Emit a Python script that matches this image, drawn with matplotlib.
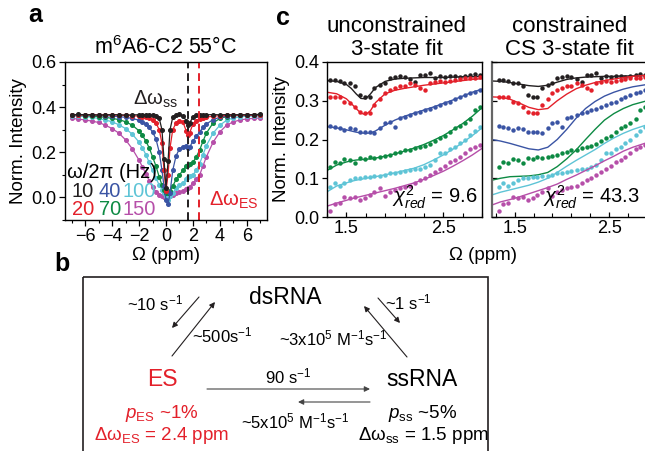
import numpy as np
import matplotlib
matplotlib.use('Agg')
import matplotlib.pyplot as plt
from matplotlib.patches import Rectangle
from matplotlib.ticker import MultipleLocator, FixedLocator

plt.rcParams['font.family'] = ['Liberation Sans', 'DejaVu Sans']
plt.rcParams['mathtext.fontset'] = 'custom'
plt.rcParams['mathtext.rm'] = 'Liberation Sans'
plt.rcParams['mathtext.it'] = 'Liberation Sans:italic'
plt.rcParams['mathtext.bf'] = 'Liberation Sans:bold'

# warna untuk tiap daya B1 (Hz)
warna = {10: '#231f20', 20: '#e3202a', 40: '#3a54a4', 70: '#0d8a43', 100: '#5ec4d6', 150: '#b64fa9'}
daya = [10, 20, 40, 70, 100, 150]

# ---------------- panel a : profil CEST penuh ----------------
offset_a = [-7.0, -6.5, -6.0, -5.5, -5.0, -4.5, -4.0, -3.5, -3.0, -2.5, -2.0,
            -1.75, -1.5, -1.25, -1.0, -0.75, -0.5, -0.3, -0.15, 0.0,
            0.15, 0.3, 0.5, 0.75, 1.0, 1.25, 1.5, 1.6, 1.75, 2.0, 2.25, 2.5, 2.75, 3.0,
            3.5, 4.0, 4.5, 5.0, 5.5, 6.0, 6.5, 7.0]

cest_10 = [0.365, 0.368, 0.366, 0.367, 0.365, 0.366, 0.367, 0.366, 0.365, 0.366, 0.366,
           0.367, 0.366, 0.365, 0.365, 0.362, 0.350, 0.300, 0.170, 0.040,
           0.160, 0.300, 0.355, 0.365, 0.368, 0.362, 0.340, 0.320, 0.330, 0.355, 0.364, 0.365, 0.367, 0.366,
           0.367, 0.366, 0.367, 0.366, 0.367, 0.366, 0.367, 0.368]
cest_20 = [0.365, 0.366, 0.365, 0.366, 0.365, 0.366, 0.364, 0.365, 0.363, 0.362, 0.360,
           0.358, 0.356, 0.352, 0.345, 0.330, 0.300, 0.240, 0.120, 0.030,
           0.100, 0.220, 0.300, 0.330, 0.340, 0.335, 0.295, 0.275, 0.285, 0.325, 0.340, 0.348, 0.352, 0.356,
           0.360, 0.362, 0.363, 0.364, 0.365, 0.364, 0.365, 0.366]
cest_40 = [0.366, 0.365, 0.366, 0.364, 0.363, 0.362, 0.360, 0.358, 0.355, 0.350, 0.342,
           0.335, 0.325, 0.310, 0.290, 0.260, 0.200, 0.120, 0.050, -0.010,
           -0.030, 0.020, 0.120, 0.185, 0.215, 0.225, 0.228, 0.220, 0.222, 0.250, 0.270, 0.290, 0.310, 0.325,
           0.345, 0.355, 0.360, 0.362, 0.364, 0.364, 0.365, 0.365]
cest_70 = [0.364, 0.363, 0.362, 0.360, 0.358, 0.355, 0.350, 0.345, 0.335, 0.320, 0.295,
           0.275, 0.250, 0.220, 0.180, 0.140, 0.090, 0.055, 0.035, 0.020,
           0.020, 0.030, 0.050, 0.080, 0.100, 0.120, 0.140, 0.145, 0.150, 0.155, 0.180, 0.210, 0.250, 0.285,
           0.330, 0.350, 0.358, 0.362, 0.363, 0.363, 0.364, 0.364]
cest_100 = [0.360, 0.360, 0.358, 0.355, 0.350, 0.343, 0.335, 0.322, 0.305, 0.280, 0.245,
            0.220, 0.190, 0.155, 0.120, 0.085, 0.055, 0.035, 0.020, 0.005,
            -0.010, 0.005, 0.020, 0.040, 0.055, 0.065, 0.080, 0.090, 0.095, 0.100, 0.120, 0.150, 0.190, 0.230,
            0.285, 0.320, 0.342, 0.352, 0.357, 0.360, 0.360, 0.360]
cest_150 = [0.350, 0.347, 0.343, 0.338, 0.332, 0.320, 0.305, 0.285, 0.255, 0.215, 0.165,
            0.135, 0.105, 0.075, 0.045, 0.025, 0.012, 0.006, 0.003, 0.000,
            0.003, 0.006, 0.012, 0.018, 0.022, 0.030, 0.038, 0.042, 0.048, 0.062, 0.080, 0.100, 0.140, 0.180,
            0.245, 0.290, 0.320, 0.335, 0.343, 0.348, 0.350, 0.352]
cest_a = {10: cest_10, 20: cest_20, 40: cest_40, 70: cest_70, 100: cest_100, 150: cest_150}

dw_ss_garis = 1.65
dw_es_garis = 2.45

# ---------------- panel c : zoom daerah ES ----------------
offset_c = [1.33, 1.38, 1.43, 1.48, 1.54, 1.59, 1.64, 1.69, 1.74, 1.79, 1.85, 1.90, 1.95, 2.00, 2.05, 2.10,
            2.16, 2.21, 2.26, 2.31, 2.36, 2.41, 2.47, 2.52, 2.57, 2.62, 2.67, 2.72, 2.78, 2.83, 2.88]

data_c = {
    10: [0.354, 0.354, 0.352, 0.347, 0.345, 0.338, 0.315, 0.309, 0.310, 0.332, 0.341, 0.347, 0.358, 0.362, 0.365, 0.362,
         0.356, 0.349, 0.366, 0.366, 0.372, 0.360, 0.364, 0.362, 0.364, 0.364, 0.362, 0.364, 0.366, 0.369, 0.367],
    20: [0.309, 0.309, 0.309, 0.298, 0.295, 0.285, 0.272, 0.269, 0.268, 0.289, 0.304, 0.319, 0.328, 0.332, 0.338, 0.338,
         0.345, 0.341, 0.332, 0.328, 0.347, 0.349, 0.352, 0.349, 0.352, 0.354, 0.355, 0.358, 0.358, 0.360, 0.362],
    40: [0.235, 0.233, 0.229, 0.224, 0.229, 0.226, 0.220, 0.220, 0.220, 0.218, 0.229, 0.242, 0.246, 0.233, 0.255, 0.259,
         0.263, 0.268, 0.272, 0.276, 0.280, 0.285, 0.289, 0.293, 0.298, 0.304, 0.309, 0.315, 0.319, 0.323, 0.329],
    70: [0.128, 0.142, 0.140, 0.149, 0.147, 0.139, 0.151, 0.149, 0.156, 0.153, 0.156, 0.157, 0.160, 0.166, 0.168, 0.173,
         0.174, 0.177, 0.180, 0.183, 0.188, 0.196, 0.203, 0.209, 0.220, 0.229, 0.235, 0.242, 0.252, 0.276, 0.285],
    100: [0.078, 0.087, 0.080, 0.088, 0.095, 0.100, 0.100, 0.104, 0.103, 0.106, 0.106, 0.108, 0.113, 0.113, 0.117, 0.119,
          0.121, 0.125, 0.125, 0.128, 0.134, 0.147, 0.164, 0.166, 0.175, 0.180, 0.190, 0.200, 0.212, 0.223, 0.233],
    150: [0.016, 0.034, 0.037, 0.052, 0.048, 0.052, 0.044, 0.050, 0.057, 0.065, 0.074, 0.054, 0.065, 0.070, 0.074, 0.078,
          0.080, 0.087, 0.095, 0.100, 0.108, 0.117, 0.125, 0.131, 0.142, 0.148, 0.155, 0.166, 0.175, 0.180, 0.186],
}

# fit tanpa batasan (unconstrained 3-state)
x_fit_u = [1.3, 1.4, 1.5, 1.55, 1.6, 1.65, 1.7, 1.75, 1.8, 1.9, 2.0, 2.1, 2.2, 2.3, 2.4, 2.5, 2.6, 2.7, 2.8, 2.9]
fit_u = {
    10: [0.352, 0.350, 0.342, 0.332, 0.318, 0.306, 0.305, 0.318, 0.334, 0.350, 0.356, 0.358, 0.359, 0.360, 0.360,
         0.360, 0.361, 0.362, 0.362, 0.363],
    20: [0.322, 0.318, 0.305, 0.293, 0.280, 0.268, 0.264, 0.275, 0.295, 0.318, 0.327, 0.332, 0.336, 0.340, 0.343,
         0.346, 0.349, 0.352, 0.355, 0.357],
    40: [0.233, 0.230, 0.225, 0.222, 0.219, 0.217, 0.216, 0.217, 0.222, 0.237, 0.250, 0.260, 0.268, 0.276, 0.284,
         0.293, 0.302, 0.312, 0.322, 0.330],
    70: [0.120, 0.134, 0.142, 0.145, 0.147, 0.148, 0.149, 0.150, 0.152, 0.157, 0.163, 0.170, 0.178, 0.187, 0.198,
         0.210, 0.225, 0.241, 0.260, 0.282],
    100: [0.065, 0.080, 0.088, 0.092, 0.095, 0.097, 0.100, 0.102, 0.104, 0.109, 0.114, 0.120, 0.126, 0.135, 0.147,
          0.160, 0.175, 0.192, 0.210, 0.230],
    150: [0.028, 0.036, 0.043, 0.047, 0.050, 0.053, 0.056, 0.059, 0.062, 0.068, 0.074, 0.081, 0.088, 0.097, 0.107,
          0.118, 0.131, 0.145, 0.160, 0.177],
}

# fit dengan batasan CS (constrained CS 3-state)
x_fit_c = [1.26, 1.35, 1.45, 1.55, 1.65, 1.75, 1.85, 1.95, 2.05, 2.15, 2.25, 2.35, 2.45, 2.55, 2.65, 2.75, 2.9]
fit_c = {
    10: [0.351, 0.350, 0.347, 0.343, 0.339, 0.337, 0.340, 0.348, 0.355, 0.359, 0.361, 0.362, 0.363, 0.363, 0.364,
         0.364, 0.365],
    20: [0.310, 0.309, 0.304, 0.294, 0.283, 0.277, 0.280, 0.300, 0.317, 0.331, 0.340, 0.347, 0.352, 0.356, 0.360,
         0.363, 0.366],
    40: [0.200, 0.196, 0.190, 0.183, 0.176, 0.173, 0.180, 0.200, 0.226, 0.255, 0.280, 0.298, 0.312, 0.322, 0.330,
         0.336, 0.342],
    70: [0.095, 0.100, 0.104, 0.105, 0.106, 0.109, 0.115, 0.130, 0.150, 0.173, 0.200, 0.226, 0.250, 0.267, 0.280,
         0.290, 0.300],
    100: [0.057, 0.064, 0.070, 0.076, 0.082, 0.090, 0.100, 0.115, 0.131, 0.146, 0.160, 0.174, 0.190, 0.204, 0.216,
          0.226, 0.238],
    150: [0.031, 0.039, 0.045, 0.052, 0.060, 0.068, 0.076, 0.085, 0.097, 0.108, 0.120, 0.132, 0.145, 0.157, 0.170,
          0.180, 0.192],
}
chi_unc = 9.6
chi_con = 43.3

W, H = 645, 451
fig = plt.figure(figsize=(W / 100, H / 100), dpi=100)


def kotak(x0, y0, x1, y1):
    # posisi axes dalam piksel (dari kiri-atas) -> fraksi figure
    return [x0 / W, 1 - y1 / H, (x1 - x0) / W, (y1 - y0) / H]


# ---------- panel a ----------
ax_a = fig.add_axes(kotak(65, 62, 267, 220))
for d in daya[::-1]:
    ax_a.plot(offset_a, cest_a[d], '-o', color=warna[d], ms=2.6, lw=0.9)
ax_a.axvline(dw_ss_garis, color='#231f20', ls=(0, (4, 2.5)), lw=1.4)
ax_a.axvline(dw_es_garis, color='#e3202a', ls=(0, (4, 2.5)), lw=1.4)
ax_a.set_xlim(-7.5, 7.5)
ax_a.set_ylim(-0.1, 0.6)
ax_a.xaxis.set_major_locator(FixedLocator([-6, -4, -2, 0, 2, 4, 6]))
ax_a.xaxis.set_minor_locator(FixedLocator([-7, -5, -3, -1, 1, 3, 5, 7]))
ax_a.yaxis.set_major_locator(FixedLocator([0.0, 0.2, 0.4, 0.6]))
ax_a.yaxis.set_minor_locator(FixedLocator([-0.1, 0.1, 0.3, 0.5]))
ax_a.yaxis.set_major_formatter(matplotlib.ticker.FormatStrFormatter('%.1f'))
ax_a.tick_params(labelsize=13, length=4, width=0.9, pad=2)
ax_a.tick_params(which='minor', length=2.5, width=0.8)
ax_a.set_xlabel('Ω (ppm)', fontsize=13.5, labelpad=1)
ax_a.set_ylabel('Norm. Intensity', fontsize=13.5, labelpad=3)
ax_a.set_title('m$^{6}$A6-C2 55°C', fontsize=15.5, pad=6)
for s in ax_a.spines.values():
    s.set_linewidth(1.0)
ax_a.text(-0.75, 0.435, 'Δω$_{\\mathrm{ss}}$', fontsize=14.5, ha='center', va='center', color='#231f20')
ax_a.text(5.05, -0.015, 'Δω$_{\\mathrm{ES}}$', fontsize=14.5, ha='center', va='center', color='#e3202a')

# legenda daya B1
fig.text(112 / W, 1 - 173 / H, 'ω/2π (Hz)', fontsize=14.5, ha='center', va='center')
posisi_leg = {10: (83, 191), 40: (110, 191), 100: (139, 191), 20: (83, 210), 70: (110, 210), 150: (139, 210)}
for d in daya:
    px, py = posisi_leg[d]
    fig.text(px / W, 1 - py / H, str(d), fontsize=14.5, ha='center', va='center', color=warna[d])

# ---------- panel c ----------
ax_u = fig.add_axes(kotak(327, 62, 482, 217))
ax_k = fig.add_axes(kotak(492, 62, 647, 217))
for ax, xf, ff in [(ax_u, x_fit_u, fit_u), (ax_k, x_fit_c, fit_c)]:
    for d in daya:
        ax.plot(xf, ff[d], '-', color=warna[d], lw=1.0)
        ax.plot(offset_c, data_c[d], 'o', color=warna[d], ms=3.2, mew=0)
    ax.set_ylim(0, 0.4)
    ax.xaxis.set_major_locator(FixedLocator([1.5, 2.5]))
    ax.xaxis.set_minor_locator(FixedLocator([1.3, 1.7, 1.9, 2.1, 2.3, 2.7, 2.9]))
    ax.yaxis.set_major_locator(MultipleLocator(0.1))
    ax.tick_params(labelsize=13, length=3.5, width=0.9, pad=2)
    ax.tick_params(axis='x', direction='in')
    ax.tick_params(which='minor', direction='in', length=3, width=0.8)
    for s in ax.spines.values():
        s.set_linewidth(1.0)
ax_u.set_xlim(1.3, 2.9)
ax_k.set_xlim(1.26, 2.9)
ax_u.yaxis.set_major_formatter(matplotlib.ticker.FormatStrFormatter('%.1f'))
ax_k.tick_params(axis='y', direction='in', labelleft=False)
ax_k.spines['left'].set_color('#666666')
ax_k.spines['left'].set_linewidth(1.6)
ax_u.set_ylabel('Norm. Intensity', fontsize=13.5, labelpad=3)
ax_u.set_title('unconstrained\n3-state fit', fontsize=16, pad=5, linespacing=1.1, x=0.45)
ax_k.set_title('constrained\nCS 3-state fit', fontsize=16, pad=5, linespacing=1.1, x=0.5)
ax_u.text(0.97, 0.04, '$\\chi^{2}_{red}$ = %.1f' % chi_unc, transform=ax_u.transAxes,
          fontsize=14.5, ha='right', va='bottom')
ax_k.text(0.955, 0.04, '$\\chi^{2}_{red}$ = %.1f' % chi_con, transform=ax_k.transAxes,
          fontsize=14.5, ha='right', va='bottom')
fig.text(483 / W, 1 - 256 / H, 'Ω (ppm)', fontsize=13.5, ha='center', va='center')

# label panel
fig.text(35 / W, 1 - 15 / H, 'a', fontsize=18, fontweight='bold', ha='center', va='center')
fig.text(283 / W, 1 - 18 / H, 'c', fontsize=18, fontweight='bold', ha='center', va='center')
fig.text(62 / W, 1 - 264 / H, 'b', fontsize=18, fontweight='bold', ha='center', va='center')

# ---------- panel b : skema kinetik ----------
ax_b = fig.add_axes([0, 0, 1, 1], zorder=-1)
ax_b.set_xlim(0, W)
ax_b.set_ylim(H, 0)
ax_b.axis('off')
ax_b.add_patch(Rectangle((83, 277), 405, 190, fill=False, lw=1.2, ec='#231f20'))

merah = '#e3202a'
ax_b.text(285, 297, 'dsRNA', fontsize=16.5, ha='center', va='center')
ax_b.text(162, 380, 'ES', fontsize=16.5, ha='center', va='center', color=merah)
ax_b.text(422, 380, 'ssRNA', fontsize=16.5, ha='center', va='center')

ax_b.text(155, 303, '~10 s$^{-1}$', fontsize=12, ha='center', va='center')
ax_b.text(222, 335, '~500s$^{-1}$', fontsize=12, ha='center', va='center')
ax_b.text(408, 302, '~1 s$^{-1}$', fontsize=12, ha='center', va='center')
ax_b.text(333, 338, '~3x10$^{5}$ M$^{-1}$s$^{-1}$', fontsize=12, ha='center', va='center')
ax_b.text(288, 376, '90 s$^{-1}$', fontsize=12, ha='center', va='center')
ax_b.text(295, 421, '~5x10$^{5}$ M$^{-1}$s$^{-1}$', fontsize=12, ha='center', va='center')

ax_b.text(162, 413, '$p_{\\mathrm{ES}}$ ~1%', fontsize=13.5, ha='center', va='center', color=merah)
ax_b.text(162, 436, 'Δω$_{\\mathrm{ES}}$ = 2.4 ppm', fontsize=13.5, ha='center', va='center', color=merah)
ax_b.text(423, 413, '$p_{\\mathrm{ss}}$ ~5%', fontsize=13.5, ha='center', va='center')
ax_b.text(423, 436, 'Δω$_{\\mathrm{ss}}$ = 1.5 ppm', fontsize=13.5, ha='center', va='center')


def panah(x0, y0, x1, y1, warna_p='#231f20'):
    ax_b.annotate('', xy=(x1, y1), xytext=(x0, y0),
                  arrowprops=dict(arrowstyle='-|>', lw=0.8, color=warna_p, mutation_scale=8,
                                  shrinkA=0, shrinkB=0))


panah(172, 356, 215, 302)
panah(199, 297, 172, 328)
panah(378, 298, 400, 323)
panah(407, 357, 364, 306)
panah(207, 389, 370, 389, '#444444')
panah(370, 402, 298, 402, '#444444')

fig.savefig('out.png', dpi=100)
